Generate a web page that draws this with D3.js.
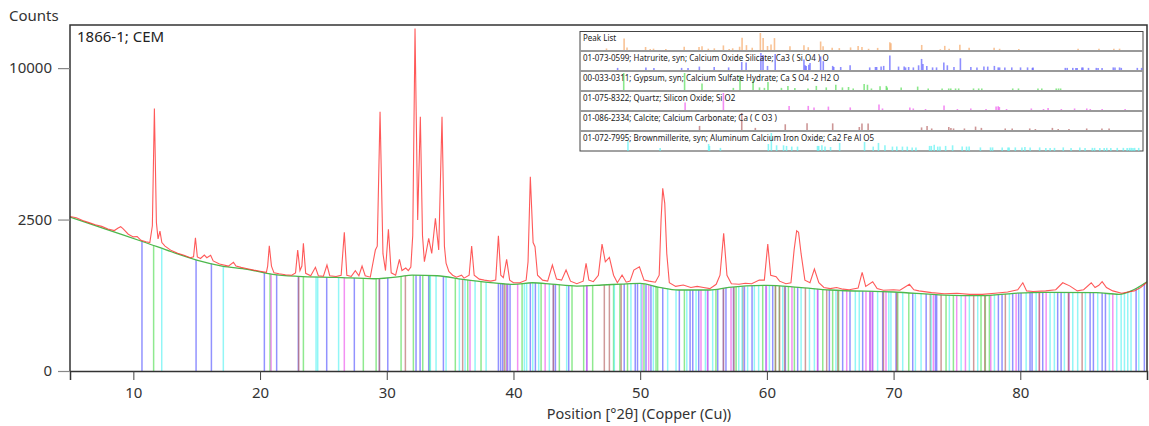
<!DOCTYPE html>
<html><head><meta charset="utf-8">
<script src="https://cdn.jsdelivr.net/npm/d3@7/dist/d3.min.js"></script>
<style>
html,body{margin:0;padding:0;background:#fff;}
svg{display:block;font-family:"Noto Sans",sans-serif;}
</style></head>
<body><svg id="c" width="1149" height="426"></svg>
<script>
// ---------- data ----------
const xTicks = [10,20,30,40,50,60,70,80];
const yTicks = [0,2500,10000];
const sampleLabel = "1866-1; CEM";
const yTitle = "Counts";
const xTitle = "Position [°2θ] (Copper (Cu))";

// observed pattern [2theta, counts]
const observed = [[5.0,2600],[5.5,2560],[6.0,2470],[6.5,2400],[7.0,2330],[7.5,2280],[8.0,2200],[8.5,2150],[8.8,2230],[9.0,2270],[9.2,2200],[9.6,2040],[10.0,1960],[10.3,1970],[10.6,1860],[11.0,1820],[11.3,1800],[11.5,2300],[11.66,7517],[11.82,2400],[11.95,1900],[12.1,2135],[12.25,1800],[12.5,1700],[13.0,1580],[13.5,1510],[14.0,1460],[14.5,1400],[14.75,1420],[14.9,1935],[15.05,1420],[15.3,1380],[15.6,1465],[15.8,1400],[16.1,1460],[16.3,1320],[16.8,1250],[17.5,1200],[17.9,1290],[18.1,1200],[18.5,1170],[19.0,1140],[19.5,1110],[20.0,1085],[20.5,1060],[20.6,1200],[20.73,1710],[20.9,1200],[21.1,1050],[21.5,1030],[22.0,1010],[22.5,1000],[22.8,1050],[22.97,1595],[23.15,1100],[23.3,1200],[23.42,1776],[23.6,1040],[24.0,990],[24.37,1171],[24.6,990],[25.0,980],[25.28,1224],[25.5,990],[26.0,975],[26.4,1000],[26.65,2095],[26.85,1000],[27.2,975],[27.52,1095],[27.8,990],[28.05,1201],[28.3,990],[28.7,960],[29.1,1595],[29.25,1700],[29.47,7325],[29.7,1500],[29.9,1100],[30.13,2187],[30.35,1050],[30.7,1000],[31.0,1359],[31.2,1100],[31.5,1156],[31.7,1100],[31.9,1180],[32.05,2000],[32.23,12792],[32.44,2483],[32.65,7044],[32.82,2000],[32.97,1301],[33.31,1918],[33.55,1509],[33.84,2540],[34.1,1595],[34.36,7044],[34.55,1700],[34.68,1270],[34.9,1080],[35.2,1000],[35.5,960],[35.9,1000],[36.1,940],[36.5,1000],[36.7,1702],[36.9,1000],[37.3,920],[37.7,900],[38.2,880],[38.6,900],[38.81,1994],[39.0,1000],[39.2,950],[39.46,1359],[39.7,900],[40.0,850],[40.5,850],[41.0,900],[41.15,1300],[41.33,4112],[41.55,1800],[41.7,1684],[41.9,1000],[42.3,900],[42.7,880],[43.07,1224],[43.4,920],[43.8,900],[44.15,1111],[44.5,880],[45.0,830],[45.5,880],[45.73,1263],[45.95,900],[46.3,870],[46.7,1000],[46.99,1757],[47.25,1300],[47.57,1408],[47.9,1000],[48.2,850],[48.57,1004],[48.9,860],[49.2,880],[49.5,1111],[49.94,1185],[50.3,900],[50.7,880],[51.2,860],[51.5,1000],[51.65,2500],[51.78,3636],[51.94,3063],[52.1,1500],[52.3,850],[52.8,780],[53.4,806],[54.0,760],[54.5,780],[55.0,760],[55.5,740],[56.0,820],[56.3,1000],[56.59,2065],[56.85,1000],[57.2,830],[57.8,820],[58.3,840],[58.8,830],[59.4,902],[59.8,900],[60.07,1757],[60.3,1000],[60.73,969],[61.0,880],[61.5,830],[61.9,850],[62.15,1600],[62.35,2144],[62.5,2100],[62.7,1500],[63.0,900],[63.4,850],[63.75,1133],[64.1,850],[64.5,760],[65.0,740],[65.5,760],[66.0,730],[66.5,720],[67.2,750],[67.52,1061],[67.8,780],[68.35,869],[68.7,740],[69.2,710],[70.0,720],[70.5,710],[71.25,819],[71.6,720],[72.0,700],[73.0,670],[74.0,650],[75.0,660],[76.0,640],[77.0,640],[78.0,660],[79.0,680],[79.8,720],[80.2,849],[80.5,700],[81.0,690],[82.0,700],[82.8,720],[83.35,849],[83.9,790],[84.5,700],[85.0,720],[85.6,849],[85.9,760],[86.2,800],[86.46,869],[86.8,760],[87.3,700],[88.0,660],[88.5,680],[89.0,700],[89.5,760],[90.0,860]];

// background curve [2theta, counts]
const background = [[5,2583],[7,2306],[9,2044],[11,1793],[13,1550],[15,1342],[17,1201],[19,1127],[21,1018],[23,977],[26,956],[29,928],[31,969],[32,1004],[34,989],[36,916],[38,857],[40,819],[41.5,849],[43,824],[45,787],[47,806],[48.5,824],[50,838],[51.5,763],[53,715],[55.5,715],[57,763],[60,800],[62.5,763],[65,715],[70,680],[74,629],[77,618],[79.5,658],[82,675],[86,668],[87.8,641],[88.9,715],[90,869]];

// peak list [2theta, net counts]
const peakList = [[9.0,230],[11.66,5800],[12.1,420],[14.9,590],[15.6,150],[16.1,200],[17.96,130],[20.73,680],[22.97,610],[23.42,800],[24.37,200],[25.28,260],[26.65,1140],[27.52,150],[28.05,270],[29.1,660],[29.47,6400],[30.13,1250],[31.0,390],[32.23,11790],[32.65,6040],[33.31,920],[33.84,1550],[34.36,6050],[36.7,800],[38.81,1160],[39.46,520],[41.33,3270],[41.7,840],[43.07,400],[44.15,310],[45.85,470],[46.99,950],[47.57,600],[48.57,180],[49.94,350],[51.78,2800],[51.94,2200],[56.59,1330],[59.4,110],[60.07,960],[60.73,170],[62.35,1370],[63.75,380],[67.52,360],[68.35,180],[71.25,150],[80.2,190],[83.35,175],[85.6,180],[86.46,200]];

// reference patterns [2theta, relative intensity]
const hatrurite = [[10.68,3],[14.95,4],[16.16,3],[20.34,3],[21.31,3],[23.02,6],[25.26,5],[27.44,4],[29.42,25],[30.08,22],[32.31,100],[32.63,80],[33.31,8],[34.47,90],[38.81,40],[38.99,10],[39.15,8],[39.54,12],[39.73,20],[41.33,65],[41.73,30],[43.15,8],[43.31,5],[44.36,5],[45.78,10],[48.74,4],[49.61,5],[49.79,5],[50.46,6],[50.85,8],[51.78,75],[53.09,6],[53.94,6],[54.15,4],[54.62,5],[55.33,4],[56.12,10],[56.57,45],[56.77,15],[57.36,8],[58.23,4],[58.83,4],[59.93,22],[60.46,10],[61.46,5],[62.43,50],[64.01,5],[64.93,4],[65.98,6],[66.56,6],[67.56,8],[68.14,4],[68.35,4],[69.14,4],[70.19,4],[71.51,4],[72.57,4],[73.3,3],[73.4,4],[78.27,3],[78.56,3],[79.4,3],[79.87,3],[80.06,3],[80.77,4],[80.93,4],[81.77,3],[82.95,3],[83.22,3],[83.82,3],[85.51,4],[85.77,4],[86.46,4],[86.72,3],[89.14,3],[89.79,3]];
const gypsum = [[11.6,100],[20.79,100],[23.42,17],[28.15,3],[29.16,75],[31.13,35],[32.1,4],[32.84,3],[33.38,25],[35.41,3],[36.39,8],[37.44,3],[39.42,2],[40.68,8],[42.18,4],[43.62,12],[44.62,4],[45.54,5],[46.25,2],[47.9,15],[48.4,12],[49.0,2],[50.3,7],[51.25,8],[51.38,4],[53.49,4],[55.98,6],[57.57,2],[59.67,2],[60.67,2],[60.98,2],[61.7,2],[62.17,2],[64.41,2],[65.19,2],[65.66,2],[70.33,2],[71.2,2],[74.14,2],[74.72,2],[76.9,2],[77.24,2],[77.56,2]];
const quartz = [[20.87,22],[26.65,100],[36.57,8],[39.46,8],[40.33,4],[42.5,6],[45.8,4],[50.14,13],[50.67,2],[54.8,4],[55.32,2],[57.17,1],[59.96,9],[61.98,1],[64.0,2],[66.3,1],[67.82,6],[68.14,7],[68.31,5],[69.4,1],[73.14,2],[74.98,1],[75.67,3],[77.67,1],[79.67,2],[81.51,2],[82.04,1],[83.83,1],[87.3,1]];
const calcite = [[23.05,8],[29.42,100],[31.47,3],[35.99,14],[39.28,18],[43.15,18],[47.17,5],[47.57,17],[48.5,17],[56.57,4],[57.4,8],[58.1,2],[60.68,5],[61.0,3],[61.4,2],[63.04,2],[64.72,6],[65.6,3],[69.2,2],[70.25,2],[72.9,2],[73.75,1],[76.32,3],[77.2,1],[78.82,1],[81.5,2],[83.8,2],[84.88,2]];
const brownmillerite = [[12.24,30],[17.1,3],[24.42,15],[24.55,8],[26.2,3],[33.44,15],[33.89,100],[34.68,10],[35.73,10],[36.18,8],[36.97,6],[37.84,6],[40.86,8],[41.04,8],[41.52,10],[41.99,6],[42.83,5],[44.2,20],[47.96,25],[49.27,6],[50.06,20],[51.04,10],[52.17,6],[52.83,6],[53.68,6],[54.41,6],[55.15,4],[55.72,4],[57.78,8],[58.04,8],[58.48,12],[59.01,6],[59.35,6],[60.2,8],[61.25,10],[62.7,6],[63.36,6],[63.75,6],[65.45,4],[66.98,4],[67.29,4],[68.74,4],[69.62,4],[69.79,4],[70.72,4],[71.72,4],[72.17,5],[72.96,4],[74.4,4],[75.33,3],[75.98,3],[76.64,3],[77.96,4],[79.14,3],[80.46,4],[81.25,3],[82.35,3],[82.69,3],[83.48,3],[84.14,3],[84.53,3],[85.14,3],[86.11,3],[87.03,3],[87.61,3],[87.96,3],[88.22,3],[88.48,3],[88.74,3],[89.35,3]];

const phaseLabels = ["01-073-0599; Hatrurite, syn; Calcium Oxide Silicate; Ca3 ( Si O4 ) O",
  "00-033-0311; Gypsum, syn; Calcium Sulfate Hydrate; Ca S O4 -2 H2 O",
  "01-075-8322; Quartz; Silicon Oxide; Si O2",
  "01-086-2334; Calcite; Calcium Carbonate; Ca ( C O3 )",
  "01-072-7995; Brownmillerite, syn; Aluminum Calcium Iron Oxide; Ca2 Fe Al O5"];
const phaseColors = ["#5f5fff","#5ade5a","#ee5cee","#b86a6a","#5ef2f2"];
const phases = [hatrurite, gypsum, quartz, calcite, brownmillerite];

// ---------- layout ----------
const L=70, R=1147, T=25, B=371;
const svg = d3.select("#c");
const x = d3.scaleLinear().domain([5,90]).range([L,R]);
const y = d3.scaleSqrt().domain([0,13050]).range([B,T]);

const bis = d3.bisector(d=>d[0]).left;
function bgAt(t){
  let i = bis(background,t);
  if(i<=0) return background[0][1];
  if(i>=background.length) return background[background.length-1][1];
  const a=background[i-1], b=background[i];
  return a[1]+(b[1]-a[1])*(t-a[0])/(b[0]-a[0]);
}

svg.append("defs").append("clipPath").attr("id","clip")
  .append("rect").attr("x",L).attr("y",T).attr("width",R-L).attr("height",B-T);
const g = svg.append("g").attr("clip-path","url(#clip)");

// reference sticks
phases.forEach((ph,k)=>{
  g.append("g").selectAll("line").data(ph).join("line")
    .attr("x1",d=>x(d[0])).attr("x2",d=>x(d[0]))
    .attr("y1",B).attr("y2",d=>y(bgAt(d[0])))
    .attr("stroke",phaseColors[k]).attr("stroke-width",1.5).attr("stroke-opacity",0.68);
});

// background
g.append("path").datum(background)
  .attr("d",d3.line().x(d=>x(d[0])).y(d=>y(d[1])).curve(d3.curveMonotoneX))
  .attr("fill","none").attr("stroke","#4cb84c").attr("stroke-width",1.3);
// observed
g.append("path").datum(observed)
  .attr("d",d3.line().x(d=>x(d[0])).y(d=>y(d[1])))
  .attr("fill","none").attr("stroke","#ff3030").attr("stroke-width",1.1).attr("stroke-opacity",0.8);

// frame
svg.append("path").attr("d",`M${L},${B}V${T}H${R}V${B}`)
  .attr("fill","none").attr("stroke","#333").attr("stroke-width",1.5);

// x axis
const xMinor = d3.range(6,90);
const xa = svg.append("g").attr("transform",`translate(0,${B})`);
xa.call(d3.axisBottom(x).tickValues(xMinor).tickSize(5).tickFormat(""));
xa.call(d3.axisBottom(x).tickValues(xTicks).tickSize(9).tickPadding(7).tickFormat(d3.format("d")));
xa.select(".domain").attr("stroke","#333").attr("stroke-width",1.5);
xa.selectAll(".tick line").attr("stroke","#444");
xa.selectAll(".tick text").attr("font-size",15).attr("fill","#333");
xa.selectAll("text").attr("font-family","Noto Sans");

// y axis
const ya = svg.append("g").attr("transform",`translate(${L},0)`);
ya.call(d3.axisLeft(y).tickValues(yTicks).tickSize(12).tickPadding(6).tickFormat(d3.format("d")));
ya.select(".domain").remove();
ya.selectAll(".tick line").attr("stroke","#888").attr("stroke-width",1.2);
ya.selectAll(".tick text").attr("font-size",15).attr("fill","#333").attr("font-family","Noto Sans");

// titles
svg.append("text").attr("x",9).attr("y",21).text(yTitle).attr("font-size",15).attr("fill","#333");
svg.append("text").attr("x",77).attr("y",42).text(sampleLabel).attr("font-size",15).attr("fill","#222");
svg.append("text").attr("x",639).attr("y",419).attr("text-anchor","middle").text(xTitle).attr("font-size",14.5).attr("fill","#333");

// legend
const LX0=580, LX1=1143, LY0=31.5;
const lx = d3.scaleLinear().domain([5,90]).range([LX0,LX1]);
const lg = svg.append("g");
lg.append("rect").attr("x",LX0).attr("y",LY0).attr("width",LX1-LX0).attr("height",151-LY0)
  .attr("fill","#fff").attr("stroke","#444").attr("stroke-width",1);
const rowBase = [51,71,91,111,131,151];
const hPL = d3.scaleSqrt().domain([0,d3.max(peakList,d=>d[1])]).range([0,18]);
const hPh = d3.scaleSqrt().domain([0,100]).range([0,18]);
lg.append("g").selectAll("line").data(peakList).join("line")
  .attr("x1",d=>lx(d[0])).attr("x2",d=>lx(d[0]))
  .attr("y1",rowBase[0]).attr("y2",d=>rowBase[0]-hPL(d[1]))
  .attr("stroke","#f5a868").attr("stroke-width",1.6).attr("stroke-opacity",0.7);
phases.forEach((ph,k)=>{
  lg.append("g").selectAll("line").data(ph).join("line")
    .attr("x1",d=>lx(d[0])).attr("x2",d=>lx(d[0]))
    .attr("y1",rowBase[k+1]).attr("y2",d=>rowBase[k+1]-Math.max(2,hPh(d[1])))
    .attr("stroke",phaseColors[k]).attr("stroke-width",1.6).attr("stroke-opacity",0.7);
});
rowBase.slice(0,5).forEach(b=>{
  lg.append("line").attr("x1",LX0).attr("x2",LX1).attr("y1",b).attr("y2",b)
    .attr("stroke","#999").attr("stroke-width",1.8);
});
lg.append("text").attr("x",LX0+3).attr("y",LY0+9).text("Peak List").attr("font-size",8).attr("fill","#222");
phaseLabels.forEach((t,k)=>{
  lg.append("text").attr("x",LX0+3).attr("y",rowBase[k]+10).text(t).attr("font-size",8).attr("fill","#222");
});
</script></body></html>
